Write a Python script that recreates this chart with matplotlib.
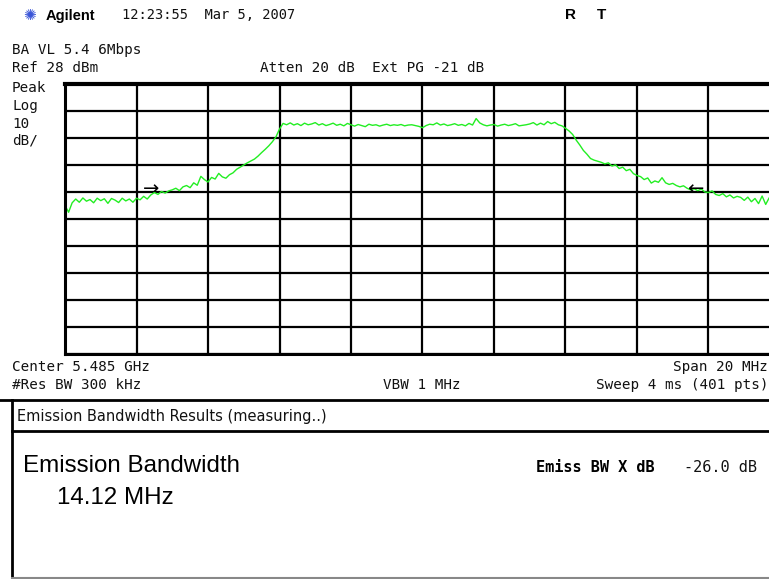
import matplotlib
matplotlib.use("Agg")
import matplotlib.pyplot as plt
import numpy as np

# === trace data (MHz offset from center, dBm) ===
ref_level = 28
db_per_div = 10
span = 20

freq = np.round(np.arange(-10, 10.01, 0.1), 1)
level = [
    -17.0, -19.5, -16.0, -14.6, -15.8, -14.2, -15.4, -14.8, -16.0, -14.3,
    -15.2, -14.5, -16.2, -14.4, -15.0, -15.9, -14.3, -15.3, -14.6, -15.8,
    -14.3, -14.9, -13.6, -14.6, -13.1, -12.2, -12.9, -11.8, -12.4, -11.6,
    -11.2, -10.6, -11.5, -10.1, -9.6, -10.4, -8.6, -9.5, -6.2, -7.4,
    -8.3, -6.6, -7.2, -5.1, -6.4, -6.9, -5.6, -4.9, -3.6, -2.8,
    -2.0, -1.2, -0.5, 0.2, 1.3, 2.6, 3.8, 5.1, 6.6, 8.4,
    11.3, 13.4, 12.9, 13.6, 12.8, 13.3, 12.6, 13.5, 12.9, 13.2,
    13.7, 12.8, 13.3, 12.6, 13.0, 13.5, 12.7, 13.1, 12.5, 13.4,
    12.9, 12.4, 13.0, 12.6, 12.2, 13.1, 12.7, 12.9, 12.4, 12.8,
    13.1, 12.6, 12.9, 12.7, 13.0, 12.5, 12.8, 12.9, 12.6, 12.3,
    11.8, 12.6, 13.1, 12.9, 13.6, 12.8, 13.2, 12.6, 12.9, 13.3,
    12.7, 13.0, 12.5, 13.4, 12.8, 15.2, 13.6, 12.9, 12.5, 12.8,
    13.0, 12.4, 12.8, 13.1, 12.6, 12.9, 13.3, 12.5, 12.7, 12.9,
    13.2, 13.7, 12.8, 13.5, 12.9, 14.1, 13.3, 13.8, 12.9, 12.5,
    11.6, 10.6, 9.3, 7.2, 5.4, 3.4, 2.0, 0.4, -0.2, -0.6,
    -1.0, -1.6, -1.2, -2.4, -1.9, -3.3, -2.8, -4.1, -3.6, -5.2,
    -5.9, -6.3, -7.4, -6.8, -8.7, -7.9, -8.4, -6.7, -8.6, -9.2,
    -8.8, -9.6, -10.1, -9.7, -10.6, -11.2, -10.8, -11.5, -10.9, -12.0,
    -12.2, -11.6, -12.9, -13.3, -12.6, -13.8, -13.1, -14.2, -13.6, -14.0,
    -15.1, -13.9, -15.6, -14.4, -16.3, -13.5, -16.6, -14.1, -17.0, -15.0,
    -15.5,
]

# -26 dB marker arrows (tip position)
marker_f = [-7.35, 7.4]
marker_db = [-10.9, -10.9]

W, H = 769, 579
fig = plt.figure(figsize=(W / 100, H / 100), dpi=100)
fig.patch.set_facecolor("white")

# === screen graticule, pixel box 65..780 x 84..354 (right edge cut off) ===
ax = fig.add_axes([65 / W, 1 - 354 / H, 715 / W, 270 / H])
ax.set_xlim(-span / 2, span / 2)
ax.set_ylim(ref_level - 10 * db_per_div, ref_level)
ax.set_xticks(np.arange(-10, 10.1, 2))
ax.set_yticks(np.arange(ref_level - 100, ref_level + 1, db_per_div))
ax.grid(True, color="black", linewidth=1.6)
ax.tick_params(length=0, labelbottom=False, labelleft=False)
for s in ax.spines.values():
    s.set_linewidth(2.2)
ax.spines["top"].set_linewidth(3)
ax.plot(freq, level, color="#22ee22", linewidth=1.0)
ax.text(marker_f[0], marker_db[0], "\u2192", ha="right", va="center",
        fontsize=14, color="black")
ax.text(marker_f[1], marker_db[1], "\u2190", ha="left", va="center",
        fontsize=14, color="black")

# === overlay in pixel coords for the annotations ===
ov = fig.add_axes([0, 0, 1, 1], facecolor="none")
ov.set_xlim(0, W)
ov.set_ylim(H, 0)
ov.axis("off")

mono = dict(family="DejaVu Sans Mono", fontsize=10.3, color="#111111", va="center")

ov.text(29, 16, "\u273a", fontsize=11, color="#3a55d8", ha="center", va="center")
ov.text(46, 16, "Agilent", family="Liberation Sans", weight="bold",
        fontsize=10.5, va="center")
ov.text(122, 15, "12:23:55  Mar 5, 2007", family="DejaVu Sans Mono",
        fontsize=9.9, color="#111111", va="center")
ov.text(565, 15, "R", family="Liberation Sans", weight="bold", fontsize=11, va="center")
ov.text(597, 15, "T", family="Liberation Sans", weight="bold", fontsize=11, va="center")

ov.text(12, 50, "BA VL 5.4 6Mbps", **mono)
ov.text(12, 68, "Ref 28 dBm", **mono)
ov.text(260, 68, "Atten 20 dB  Ext PG -21 dB", **mono)
ov.text(12, 88, "Peak", **mono)
ov.text(12, 106, "Log", **mono)
ov.text(12, 124, "10", **mono)
ov.text(12, 141, "dB/", **mono)

ov.text(12, 367, "Center 5.485 GHz", **mono)
ov.text(768, 367, "Span 20 MHz", ha="right", **mono)
ov.text(12, 385, "#Res BW 300 kHz", **mono)
ov.text(383, 385, "VBW 1 MHz", **mono)
ov.text(768, 385, "Sweep 4 ms (401 pts)", ha="right", **mono)

# results box
ov.plot([0, W], [400, 400], color="black", linewidth=2)
ov.plot([12, 12], [400, H], color="black", linewidth=2)
ov.plot([12, W], [431, 431], color="black", linewidth=2)
ov.plot([12, W], [577.5, 577.5], color="#888888", linewidth=1.5)

ov.text(17, 416, "Emission Bandwidth Results (measuring..)", family="DejaVu Sans",
        fontsize=10.5, color="#111111", va="center")
ov.text(23, 466, "Emission Bandwidth", family="Liberation Sans",
        fontsize=17.4, va="center")
ov.text(57, 498, "14.12 MHz", family="Liberation Sans", fontsize=17.4, va="center")
ov.text(536, 467, "Emiss BW X dB", family="DejaVu Sans Mono", weight="bold",
        fontsize=11, va="center")
ov.text(684, 467, "-26.0 dB", family="DejaVu Sans Mono", fontsize=11,
        color="#111111", va="center")

fig.savefig("out.png", dpi=100)
